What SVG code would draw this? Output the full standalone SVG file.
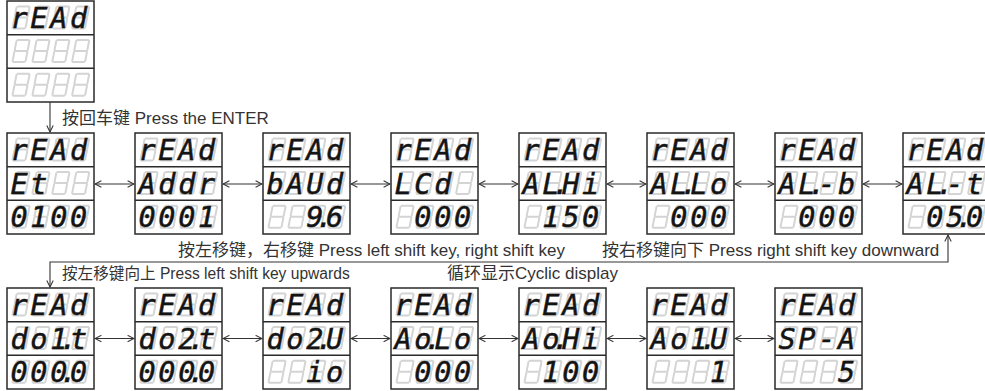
<svg xmlns="http://www.w3.org/2000/svg" xmlns:xlink="http://www.w3.org/1999/xlink" width="985" height="391" viewBox="0 0 985 391">
<style>
.frame{fill:#fff;stroke:#2a2a2a;stroke-width:1.5}
.dv{stroke:#2a2a2a;stroke-width:1.5}
.gh{fill:none;stroke:#d4d4d4;stroke-width:2;stroke-linecap:round}
.seg{font-family:"DejaVu Sans Mono",monospace;font-style:oblique;font-size:28.5px;fill:#141414;stroke:#141414;stroke-width:0.5}
.lbl{font-family:"Liberation Sans","Noto Sans CJK SC",sans-serif;font-size:17px;fill:#333}
.sm{font-size:15.6px}
.con{fill:none;stroke:#333;stroke-width:1.1}
.arr{marker-start:url(#ah);marker-end:url(#ah)}
</style>
<defs>
<marker id="ah" viewBox="0 0 10 10" refX="9" refY="5" markerWidth="8" markerHeight="8" markerUnits="userSpaceOnUse" orient="auto-start-reverse"><path d="M1,1 L9,5 L1,9" fill="none" stroke="#333" stroke-width="1.3"/></marker>
<path id="g8" class="gh" transform="skewX(-11)" d="M4.5,-21.5 H15.5 M16.5,-20.5 V-11.5 M16.5,-9.5 V-0.5 M15.5,0.5 H4.5 M3.5,-0.5 V-9.5 M3.5,-11.5 V-20.5 M4.5,-10.5 H15.5"/>
<g id="row4"><use xlink:href="#g8" x="2"/><use xlink:href="#g8" x="21.9"/><use xlink:href="#g8" x="41.8"/><use xlink:href="#g8" x="61.6"/></g>
<g id="box"><rect class="frame" x="0" y="0" width="87" height="101"/><line class="dv" x1="0" y1="33.67" x2="87" y2="33.67"/><line class="dv" x1="0" y1="67.33" x2="87" y2="67.33"/><use xlink:href="#row4" y="26.9"/><use xlink:href="#row4" y="60.5"/><use xlink:href="#row4" y="94.2"/></g>
</defs>
<rect width="985" height="391" fill="#fff"/>

<g id="top" transform="translate(7,1)"><use xlink:href="#box"/><text class="seg" x="3.4 23.3 43.2 63" y="26.9">rEAd</text></g>

<g id="b1" transform="translate(7,133)"><use xlink:href="#box"/><text class="seg" x="3.4 23.3 43.2 63" y="26.9">rEAd</text><text class="seg" x="3.4 23.3" y="60.5">Et</text><text class="seg" x="3.4 23.3 43.2 63" y="94.2">0100</text></g>
<g id="b2" transform="translate(135,133)"><use xlink:href="#box"/><text class="seg" x="3.4 23.3 43.2 63" y="26.9">rEAd</text><text class="seg" x="3.4 23.3 43.2 63" y="60.5">Addr</text><text class="seg" x="3.4 23.3 43.2 63" y="94.2">0001</text></g>
<g id="b3" transform="translate(263,133)"><use xlink:href="#box"/><text class="seg" x="3.4 23.3 43.2 63" y="26.9">rEAd</text><text class="seg" x="3.4 23.3 43.2 63" y="60.5">bAUd</text><text class="seg" x="43.2 53 63" y="94.2">9.6</text></g>
<g id="b4" transform="translate(391,133)"><use xlink:href="#box"/><text class="seg" x="3.4 23.3 43.2 63" y="26.9">rEAd</text><text class="seg" x="3.4 23.3 43.2" y="60.5">LCd</text><text class="seg" x="23.3 43.2 63" y="94.2">000</text></g>
<g id="b5" transform="translate(519,133)"><use xlink:href="#box"/><text class="seg" x="3.4 23.3 43.2 63" y="26.9">rEAd</text><text class="seg" x="3.4 23.3 33.4 43.2 63" y="60.5">AL.Hi</text><text class="seg" x="23.3 43.2 63" y="94.2">150</text></g>
<g id="b6" transform="translate(647,133)"><use xlink:href="#box"/><text class="seg" x="3.4 23.3 43.2 63" y="26.9">rEAd</text><text class="seg" x="3.4 23.3 33.4 43.2 63" y="60.5">AL.Lo</text><text class="seg" x="23.3 43.2 63" y="94.2">000</text></g>
<g id="b7" transform="translate(775,133)"><use xlink:href="#box"/><text class="seg" x="3.4 23.3 43.2 63" y="26.9">rEAd</text><text class="seg" x="3.4 23.3 33.4 43.2 63" y="60.5">AL.-b</text><text class="seg" x="23.3 43.2 63" y="94.2">000</text></g>
<g id="b8" transform="translate(903,133)"><use xlink:href="#box"/><text class="seg" x="3.4 23.3 43.2 63" y="26.9">rEAd</text><text class="seg" x="3.4 23.3 33.4 43.2 63" y="60.5">AL.-t</text><text class="seg" x="23.3 43.2 53 63" y="94.2">05.0</text></g>

<g id="d1" transform="translate(7,288)"><use xlink:href="#box"/><text class="seg" x="3.4 23.3 43.2 63" y="26.9">rEAd</text><text class="seg" x="3.4 23.3 43.2 53 63" y="60.5">do1.t</text><text class="seg" x="3.4 23.3 43.2 53 63" y="94.2">000.0</text></g>
<g id="d2" transform="translate(135,288)"><use xlink:href="#box"/><text class="seg" x="3.4 23.3 43.2 63" y="26.9">rEAd</text><text class="seg" x="3.4 23.3 43.2 53 63" y="60.5">do2.t</text><text class="seg" x="3.4 23.3 43.2 53 63" y="94.2">000.0</text></g>
<g id="d3" transform="translate(263,288)"><use xlink:href="#box"/><text class="seg" x="3.4 23.3 43.2 63" y="26.9">rEAd</text><text class="seg" x="3.4 23.3 43.2 53 63" y="60.5">do2.U</text><text class="seg" x="43.2 63" y="94.2">io</text></g>
<g id="d4" transform="translate(391,288)"><use xlink:href="#box"/><text class="seg" x="3.4 23.3 43.2 63" y="26.9">rEAd</text><text class="seg" x="3.4 23.3 33.4 43.2 63" y="60.5">Ao.Lo</text><text class="seg" x="23.3 43.2 63" y="94.2">000</text></g>
<g id="d5" transform="translate(519,288)"><use xlink:href="#box"/><text class="seg" x="3.4 23.3 43.2 63" y="26.9">rEAd</text><text class="seg" x="3.4 23.3 33.4 43.2 63" y="60.5">Ao.Hi</text><text class="seg" x="23.3 43.2 63" y="94.2">100</text></g>
<g id="d6" transform="translate(647,288)"><use xlink:href="#box"/><text class="seg" x="3.4 23.3 43.2 63" y="26.9">rEAd</text><text class="seg" x="3.4 23.3 43.2 53 63" y="60.5">Ao1.U</text><text class="seg" x="63" y="94.2">1</text></g>
<g id="d7" transform="translate(775,288)"><use xlink:href="#box"/><text class="seg" x="3.4 23.3 43.2 63" y="26.9">rEAd</text><text class="seg" x="3.4 23.3 43.2 63" y="60.5">SP-A</text><text class="seg" x="63" y="94.2">5</text></g>

<g id="connectors">
<line class="con" x1="50" y1="102" x2="50" y2="132" marker-end="url(#ah)"/>
<line class="con arr" x1="95" y1="184" x2="134" y2="184"/>
<line class="con arr" x1="223" y1="184" x2="262" y2="184"/>
<line class="con arr" x1="351" y1="184" x2="390" y2="184"/>
<line class="con arr" x1="479" y1="184" x2="518" y2="184"/>
<line class="con arr" x1="607" y1="184" x2="646" y2="184"/>
<line class="con arr" x1="735" y1="184" x2="774" y2="184"/>
<line class="con arr" x1="863" y1="184" x2="902" y2="184"/>
<path class="con arr" d="M50,287 V262 H948 V235"/>
<line class="con arr" x1="95" y1="338.5" x2="134" y2="338.5"/>
<line class="con arr" x1="223" y1="338.5" x2="262" y2="338.5"/>
<line class="con arr" x1="351" y1="338.5" x2="390" y2="338.5"/>
<line class="con arr" x1="479" y1="338.5" x2="518" y2="338.5"/>
<line class="con arr" x1="607" y1="338.5" x2="646" y2="338.5"/>
<line class="con arr" x1="735" y1="338.5" x2="774" y2="338.5"/>
</g>

<g id="labels">
<text class="lbl" x="62" y="124">按回车键 Press the ENTER</text>
<text class="lbl" x="178" y="256">按左移键，右移键 Press left shift key, right shift key</text>
<text class="lbl" x="602" y="256">按右移键向下 Press right shift key downward</text>
<text class="lbl sm" x="62" y="279">按左移键向上 Press left shift key upwards</text>
<text class="lbl" x="447" y="279">循环显示Cyclic display</text>
</g>
</svg>
